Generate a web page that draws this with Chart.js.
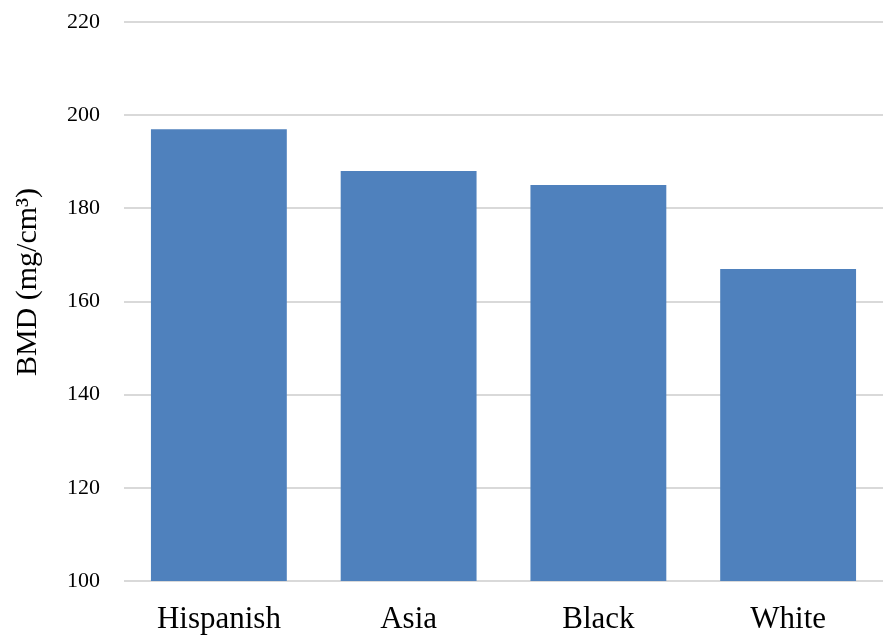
<!DOCTYPE html>
<html>
<head>
<meta charset="utf-8">
<script src="https://cdn.jsdelivr.net/npm/chart.js@4.4.1/dist/chart.umd.min.js"></script>
<style>
    html, body { margin: 0; padding: 0; background: #ffffff; }
    #wrap { width: 883px; height: 637px; }
</style>
</head>
<body>
<div id="wrap"><canvas id="bmd-chart" width="883" height="637"></canvas></div>
<script>
const groups = ["Hispanish", "Asia", "Black", "White"];
const bmdValues = [197, 188, 185, 167];
const yTicks = [100, 120, 140, 160, 180, 200, 220];
const yTitle = "BMD (mg/cm³)";

const serif = "'Liberation Serif', 'Times New Roman', serif";

// axis title drawn by hand so it can sit a little above the plot's centre, as in the original
const yTitlePlugin = {
    id: "yTitle",
    afterDraw(chart) {
        const ctx = chart.ctx;
        ctx.save();
        ctx.translate(28, 282);
        ctx.rotate(-Math.PI / 2);
        ctx.font = `30px ${serif}`;
        ctx.fillStyle = "#000";
        ctx.textAlign = "center";
        ctx.textBaseline = "middle";
        ctx.fillText(yTitle, 0, 0);
        ctx.restore();
    }
};

new Chart(document.querySelector("#bmd-chart"), {
    type: "bar",
    data: {
        labels: groups,
        datasets: [{ data: bmdValues, backgroundColor: "#4f81bd", borderWidth: 0, barPercentage: 0.716, categoryPercentage: 1 }]
    },
    plugins: [yTitlePlugin],
    options: {
        responsive: false,
        animation: false,
        layout: { padding: { top: 22, right: 0, left: 0, bottom: 0 } },
        plugins: { legend: { display: false }, tooltip: { enabled: false } },
        scales: {
            x: {
                grid: { display: false, drawTicks: false },
                border: { display: false },
                ticks: { color: "#000", font: { family: serif, size: 31 }, padding: 20 },
                afterFit: (scale) => { scale.height = 56; scale.paddingLeft = 0; scale.paddingRight = 0; }
            },
            y: {
                min: 100,
                max: 220,
                afterBuildTicks: (scale) => { scale.ticks = yTicks.map((value) => ({ value })); },
                grid: { color: "#d9d9d9", lineWidth: 2, drawTicks: false },
                border: { display: false },
                ticks: { color: "#000", font: { family: serif, size: 22 }, padding: 24 },
                afterFit: (scale) => { scale.width = 124; scale.paddingTop = 0; scale.paddingBottom = 0; }
            }
        }
    }
});
</script>
</body>
</html>
